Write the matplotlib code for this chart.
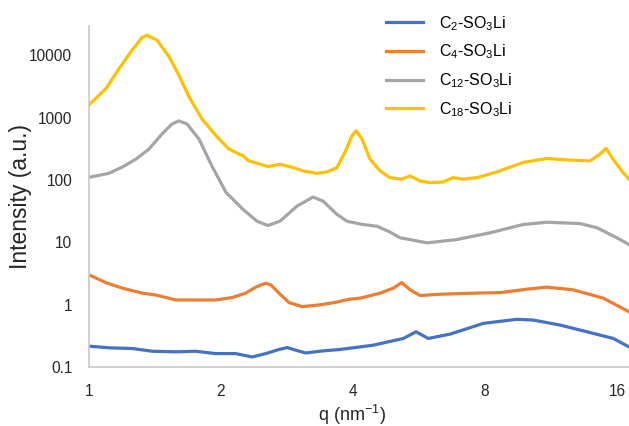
import numpy as np
import matplotlib.pyplot as plt
from matplotlib.ticker import FixedLocator, FixedFormatter, NullLocator

plt.rcParams['font.family'] = ['Liberation Sans', 'DejaVu Sans']
plt.rcParams['mathtext.fontset'] = 'custom'
plt.rcParams['mathtext.rm'] = 'Liberation Sans'
plt.rcParams['mathtext.it'] = 'Liberation Sans'

# C2-SO3Li (blue)
q_c2 = [1.0, 1.111, 1.255, 1.394, 1.577, 1.751, 1.945, 2.16, 2.357, 2.529, 2.712,
        2.833, 2.961, 3.12, 3.405, 3.737, 4.45, 5.21, 5.57, 5.94, 6.66, 7.93,
        9.45, 10.31, 11.86, 14.13, 15.69, 17.04]
i_c2 = [0.216, 0.203, 0.198, 0.179, 0.175, 0.179, 0.164, 0.164, 0.145, 0.164, 0.191,
        0.205, 0.186, 0.168, 0.181, 0.191, 0.224, 0.287, 0.367, 0.287, 0.337, 0.501,
        0.582, 0.566, 0.471, 0.346, 0.287, 0.21]

# C4-SO3Li (orange)
q_c4 = [1.0, 1.092, 1.191, 1.323, 1.419, 1.577, 1.782, 1.945, 2.122, 2.277, 2.4,
        2.529, 2.597, 2.712, 2.858, 3.065, 3.346, 3.653, 3.917, 4.15, 4.61, 4.942,
        5.165, 5.4, 5.69, 6.32, 7.52, 8.66, 9.96, 11.06, 12.72, 14.89, 17.04]
i_c4 = [3.01, 2.26, 1.84, 1.53, 1.43, 1.19, 1.19, 1.19, 1.3, 1.53, 1.91,
        2.21, 2.08, 1.53, 1.08, 0.93, 0.99, 1.09, 1.22, 1.27, 1.53, 1.84,
        2.26, 1.73, 1.4, 1.47, 1.53, 1.56, 1.77, 1.91, 1.73, 1.27, 0.77]

# C12-SO3Li (grey)
q_c12 = [1.0, 1.111, 1.189, 1.28, 1.37, 1.467, 1.546, 1.604, 1.673, 1.782, 1.908,
         2.054, 2.097, 2.245, 2.416, 2.56, 2.726, 2.981, 3.242, 3.417, 3.678, 3.876,
         4.216, 4.538, 4.858, 5.12, 5.31, 5.9, 6.91, 8.21, 9.77, 11.08, 13.18,
         14.41, 16.0, 17.04]
i_c12 = [110, 128, 160, 216, 313, 546, 791, 885, 791, 453, 166,
         63, 54.6, 33.7, 21.8, 18.6, 21.8, 38.1, 53.2, 45.9, 28, 21.8,
         19.3, 18.1, 14.6, 11.8, 11.3, 9.8, 11.1, 14.2, 19.3, 21.0, 20.0,
         17.1, 11.8, 9.2]

# C18-SO3Li (yellow)
q_c18 = [1.0, 1.092, 1.171, 1.253, 1.321, 1.356, 1.429, 1.522, 1.604, 1.691, 1.81,
         1.948, 2.086, 2.245, 2.317, 2.416, 2.56, 2.726, 2.904, 3.076, 3.311, 3.49,
         3.678, 3.835, 3.979, 4.064, 4.194, 4.373, 4.61, 4.858, 5.165, 5.4, 5.69,
         5.99, 6.42, 6.76, 7.13, 7.67, 8.52, 9.77, 11.08, 12.3, 13.88, 14.63,
         15.1, 15.67, 16.51, 17.04]
i_c18 = [1603, 2904, 6100, 12040, 19300, 21000, 17460, 9530, 4755, 2157, 953,
         513, 313, 244, 202, 186, 164, 179, 160, 140, 128, 135,
         158, 280, 513, 617, 453, 216, 140, 109, 103, 116, 96.4,
         90.8, 92.9, 109, 103, 109, 135, 191, 221, 210, 202, 260,
         321, 216, 132, 103]

series_labels = ['C$_{2}$-SO$_{3}$Li', 'C$_{4}$-SO$_{3}$Li',
                 'C$_{12}$-SO$_{3}$Li', 'C$_{18}$-SO$_{3}$Li']
colors = ['#4472C4', '#ED7D31', '#A5A5A5', '#FFC000']

x_ticks = [1, 2, 4, 8, 16]
y_ticks = [0.1, 1, 10, 100, 1000, 10000]
y_tick_labels = ['0.1', '1', '10', '100', '1000', '10000']

fig = plt.figure(figsize=(6.29, 4.26), dpi=100)
ax = fig.add_axes([89 / 629, 1 - 367 / 426, 1 - 89 / 629, (367 - 26) / 426])

for q, i, lab, c in zip([q_c2, q_c4, q_c12, q_c18], [i_c2, i_c4, i_c12, i_c18],
                        series_labels, colors):
    ax.plot(q, i, color=c, lw=2.3, label=lab, solid_joinstyle='round')

ax.set_xscale('log', base=2)
ax.set_yscale('log')
ax.set_xlim(1, 17.04)
ax.set_ylim(0.1, 29500)

ax.xaxis.set_major_locator(FixedLocator(x_ticks))
ax.xaxis.set_major_formatter(FixedFormatter([str(t) for t in x_ticks]))
ax.xaxis.set_minor_locator(NullLocator())
ax.yaxis.set_major_locator(FixedLocator(y_ticks))
ax.yaxis.set_major_formatter(FixedFormatter(y_tick_labels))
ax.yaxis.set_minor_locator(NullLocator())
ax.tick_params(length=0, labelsize=11.2, colors='#262626')
ax.tick_params(axis='x', pad=12)
ax.tick_params(axis='y', pad=12)

for s in ['top', 'right']:
    ax.spines[s].set_visible(False)
for s in ['left', 'bottom']:
    ax.spines[s].set_color('#C8C8C8')
    ax.spines[s].set_linewidth(1.2)

ax.set_ylabel('Intensity (a.u.)', fontsize=16.5, color='#262626')
ax.yaxis.set_label_coords(-0.106, 0.5)
ax.set_xlabel('q (nm$^{-1}$)', fontsize=13, color='#262626')
ax.xaxis.set_label_coords(0.487, -0.106)

fig.legend(loc='upper left', bbox_to_anchor=(386 / 629, 1 - 14 / 426),
           bbox_transform=fig.transFigure, frameon=False, fontsize=11.5,
           handlelength=2.3, handletextpad=1.0, labelspacing=0.62,
           borderpad=0, borderaxespad=0)

fig.savefig('out.png', dpi=100)
